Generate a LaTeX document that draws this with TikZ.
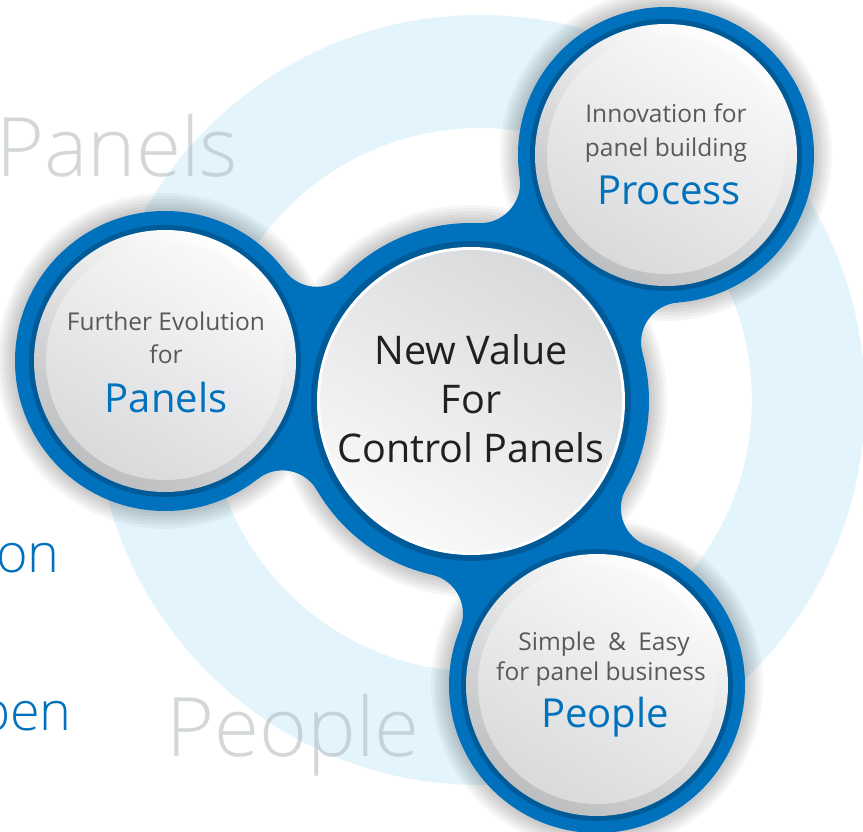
\documentclass[tikz,border=0pt]{standalone}
\usepackage{fontspec}
\setmainfont{Open Sans}
\newfontfamily\thinfont{Open Sans Light}
\usetikzlibrary{intersections}
\definecolor{ringbg}{HTML}{E3F4FC}
\definecolor{ringblue}{HTML}{0071BC}
\definecolor{shadeblue}{HTML}{005A98}
\definecolor{ghost}{HTML}{A9B1B4}
\definecolor{caption}{HTML}{58595B}
\definecolor{keyword}{HTML}{0071BC}
\definecolor{ink}{HTML}{231F20}
\definecolor{rimgray}{HTML}{BDBEC0}
\definecolor{dischi}{HTML}{F9F9FA}
\definecolor{disclo}{HTML}{D9DADC}
\tikzset{
  ghostword/.style={text=ghost, text opacity=0.5, font=\thinfont\fontsize{82}{82}\selectfont, anchor=base west, inner sep=0pt},
  sideword/.style={text=keyword, font=\thinfont\fontsize{54}{54}\selectfont, anchor=base west, inner sep=0pt},
  small/.style={text=caption, font=\fontsize{24.5}{28}\selectfont, anchor=base, inner sep=0pt},
  key/.style={text=keyword, font=\fontsize{40}{40}\selectfont, anchor=base, inner sep=0pt},
  hub/.style={text=ink, font=\fontsize{39.5}{49}\selectfont, align=center, inner sep=0pt},
  haze/.style={black, opacity=0.035}
}
% blue neck between two rings: #1,#3 centres, #2,#4 radii, #5 name
\newcommand\neck[5]{%
  \path[name path=#5-a] (#1) circle[radius={#2+40}];
  \path[name path=#5-b] (#3) circle[radius={#4+40}];
  \path[name intersections={of=#5-a and #5-b, by={#5-1,#5-2}}];
  \begin{scope}[even odd rule]
    \clip (-20,-20) rectangle (900,900)
      (#5-1) circle[radius=40] (#5-2) circle[radius=40];
    \fill[ringblue] (#1) -- (#5-1) -- (#3) -- (#5-2) -- cycle;
  \end{scope}}
% white face of a small disc
\newcommand\satdisc[1]{%
  \shade[top color=white, bottom color=rimgray, shading angle=-30] (#1) circle[radius=131];
  \shade[top color=dischi, bottom color=disclo, shading angle=-30] (#1) circle[radius=119];}
\begin{document}
\begin{tikzpicture}[x=1pt,y=-1pt]
\clip (0,0) rectangle (863,832);
\fill[white] (0,0) rectangle (863,832);
% pale ring
\fill[ringbg, even odd rule] (480,400) circle[radius=385] (480,400) circle[radius=272];
% faint words
\node[ghostword] (wpanels) at (-4,177) {Panels};
\node[ghostword] (wpeople) at (166,756) {People};
\node[sideword] (won) at (-4,572) {on};
\node[sideword] (wpen) at (-22,730) {pen};
% centres
\coordinate (hubc) at (471,401);
\coordinate (panc) at (165,361);
\coordinate (proc) at (666,155);
\coordinate (peoc) at (597,685);
% soft shadow
\foreach \k in {1,...,8}{
  \fill[haze, shift={(-10,12)}] (hubc) circle[radius={172+3*\k}];
  \fill[haze, shift={(-10,12)}] (panc) circle[radius={144+3*\k}];
  \fill[haze, shift={(-10,12)}] (proc) circle[radius={142+3*\k}];
  \fill[haze, shift={(-10,12)}] (peoc) circle[radius={142+3*\k}];
}
% blue body
\fill[ringblue] (hubc) circle[radius=178];
\fill[ringblue] (panc) circle[radius=150];
\fill[ringblue] (proc) circle[radius=148];
\fill[ringblue] (peoc) circle[radius=148];
\neck{hubc}{178}{panc}{150}{np}
\neck{hubc}{178}{proc}{148}{nr}
\neck{hubc}{178}{peoc}{148}{ne}
% darker blue under the faces
\fill[shadeblue, shift={(-12,12)}] (hubc) circle[radius=160];
\fill[shadeblue, shift={(-8,8)}] (panc) circle[radius=136];
\fill[shadeblue, shift={(-8,8)}] (proc) circle[radius=136];
\fill[shadeblue, shift={(-8,8)}] (peoc) circle[radius=136];
% faces
\fill[white] (hubc) circle[radius=154];
\shade[top color=disclo, bottom color=dischi, shading angle=-30] (hubc) circle[radius=151];
\satdisc{panc}
\satdisc{proc}
\satdisc{peoc}
% texts
\node[hub] (hubtxt) at (471,399) {New Value\\For\\Control Panels};
\node[small] (pan1) at (166,330) {Further Evolution};
\node[small] (pan2) at (166,363) {for};
\node[key] (pan3) at (166,412) {Panels};
\node[small] (pro1) at (666,123) {Innovation for};
\node[small] (pro2) at (666,157) {panel building};
\node[key] (pro3) at (669,205) {Process};
\node[small] (peo1) at (604,650) {Simple\hspace{6pt} \&\hspace{6pt} Easy};
\node[small] (peo2) at (601,680) {for panel business};
\node[key] (peo3) at (605,727) {People};
\end{tikzpicture}
\end{document}
